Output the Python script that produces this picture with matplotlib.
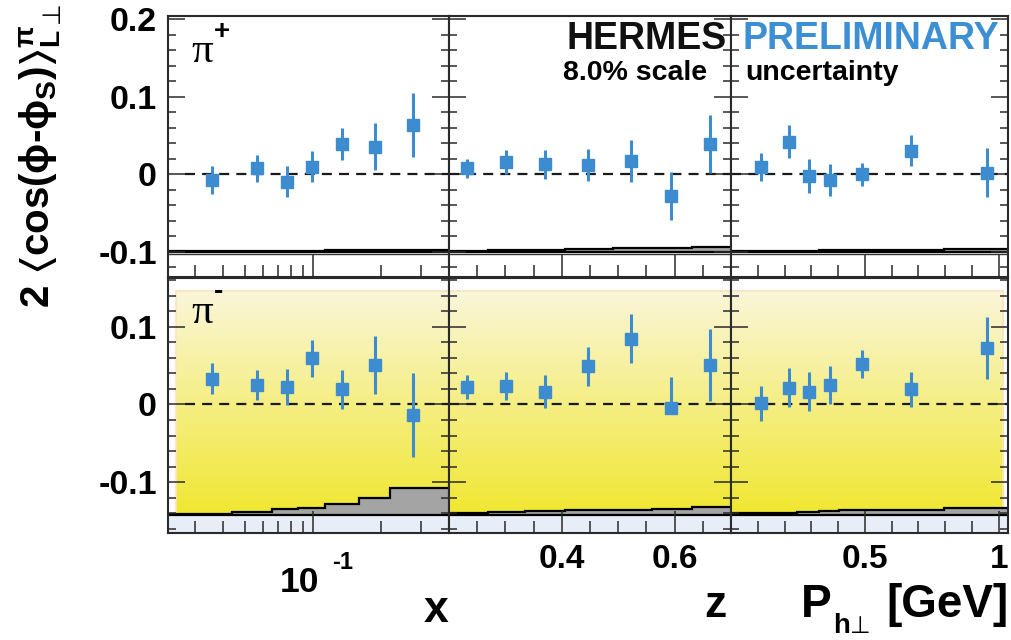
import numpy as np
import matplotlib
matplotlib.use("Agg")
import matplotlib.pyplot as plt
from matplotlib.ticker import MultipleLocator, FixedLocator, NullFormatter, FuncFormatter, LogLocator
from matplotlib.patches import Rectangle

plt.rcParams['font.family'] = ['Liberation Sans', 'DejaVu Sans']
plt.rcParams['font.weight'] = 'bold'
plt.rcParams['axes.unicode_minus'] = False
plt.rcParams['mathtext.fontset'] = 'custom'
plt.rcParams['mathtext.rm'] = 'Liberation Sans:bold'
plt.rcParams['mathtext.it'] = 'Liberation Sans:bold'
plt.rcParams['mathtext.bf'] = 'Liberation Sans:bold'
plt.rcParams['mathtext.fallback'] = 'stix'

# ---------------- data ----------------
x_x = [0.0357, 0.0565, 0.0767, 0.099, 0.134, 0.188, 0.277]
x_z = [0.232, 0.301, 0.371, 0.446, 0.523, 0.593, 0.662]
x_pt = [0.112, 0.215, 0.292, 0.371, 0.489, 0.672, 0.955]

pip_x = [-0.0077, 0.0073, -0.0099, 0.0094, 0.0387, 0.0353, 0.0632]
pip_x_err = [0.018, 0.017, 0.020, 0.020, 0.021, 0.030, 0.041]
pip_z = [0.0073, 0.0151, 0.0129, 0.0116, 0.0168, -0.0284, 0.0387]
pip_z_err = [0.0125, 0.0153, 0.0187, 0.021, 0.027, 0.031, 0.037]
pip_pt = [0.0086, 0.0417, -0.0022, -0.0077, -0.0004, 0.0297, 0.0017]
pip_pt_err = [0.018, 0.021, 0.022, 0.021, 0.015, 0.020, 0.032]

pim_x = [0.0331, 0.0249, 0.0224, 0.0594, 0.0194, 0.0508, -0.0138]
pim_x_err = [0.020, 0.019, 0.023, 0.024, 0.025, 0.037, 0.054]
pim_z = [0.0224, 0.0237, 0.0163, 0.049, 0.0847, -0.0043, 0.0508]
pim_z_err_lo = [0.015, 0.018, 0.021, 0.025, 0.032, 0.004, 0.046]
pim_z_err_hi = [0.015, 0.018, 0.021, 0.025, 0.032, 0.039, 0.046]
pim_pt = [0.0013, 0.0215, 0.0163, 0.0249, 0.0525, 0.0194, 0.0731]
pim_pt_err = [0.023, 0.025, 0.025, 0.024, 0.018, 0.023, 0.040]

# systematic bands (bin edges and heights)
edges_x = [0.023, 0.044, 0.066, 0.086, 0.113, 0.16, 0.22, 0.4]
edges_z = [0.2, 0.27, 0.335, 0.405, 0.49, 0.56, 0.63, 0.7]
edges_pt = [0.0, 0.166, 0.247, 0.33, 0.405, 0.576, 0.797, 1.035]
sys_pip_x = [0.0005, 0.0008, 0.001, 0.0012, 0.0015, 0.002, 0.0025]
sys_pip_z = [0.001, 0.0015, 0.002, 0.003, 0.004, 0.005, 0.006]
sys_pip_pt = [0.0008, 0.001, 0.0012, 0.0015, 0.002, 0.0025, 0.003]
sys_pim_x = [0.001, 0.0035, 0.0073, 0.0095, 0.0142, 0.022, 0.0344]
sys_pim_z = [0.003, 0.004, 0.005, 0.006, 0.007, 0.008, 0.010]
sys_pim_pt = [0.002, 0.003, 0.004, 0.005, 0.006, 0.007, 0.009]

sys_base_top = -0.1
sys_base_bot = -0.142

ylim_top = (-0.1329, 0.2039)
ylim_bot = (-0.1652, 0.1626)
xlims = [(0.0228, 0.40), (0.2, 0.7), (0.0, 1.035)]

BLUE = '#3d8cd0'

W, H = 1011, 640
fig = plt.figure(figsize=(W / 100, H / 100), dpi=100)

cols = [(168, 449), (449, 731), (731, 1008)]
rows = [(16, 277), (278, 533)]

def add_ax(r, c):
    l, rr = cols[c]
    t, b = rows[r]
    return fig.add_axes([l / W, 1 - b / H, (rr - l) / W, (b - t) / H])

top_data = [(x_x, pip_x, pip_x_err, pip_x_err), (x_z, pip_z, pip_z_err, pip_z_err),
            (x_pt, pip_pt, pip_pt_err, pip_pt_err)]
bot_data = [(x_x, pim_x, pim_x_err, pim_x_err), (x_z, pim_z, pim_z_err_lo, pim_z_err_hi),
            (x_pt, pim_pt, pim_pt_err, pim_pt_err)]
edges_all = [edges_x, edges_z, edges_pt]
sys_top = [sys_pip_x, sys_pip_z, sys_pip_pt]
sys_bot = [sys_pim_x, sys_pim_z, sys_pim_pt]

yel_top = np.array([250, 246, 218]) / 255.0
yel_bot = np.array([240, 231, 48]) / 255.0
grad = np.linspace(0, 1, 256)[:, None, None]
grad_img = yel_top[None, None, :] * (1 - grad) + yel_bot[None, None, :] * grad

frame_col = '#2a2a2a'

axes = {}
for r in range(2):
    for c in range(3):
        ax = add_ax(r, c)
        axes[(r, c)] = ax
        ylim = ylim_top if r == 0 else ylim_bot
        if c == 0:
            ax.set_xscale('log')
        # background for pi- row
        if r == 1:
            y0f = (sys_base_bot - ylim[0]) / (ylim[1] - ylim[0])
            y1f = (0.146 - ylim[0]) / (ylim[1] - ylim[0])
            x0f = 0.028 if c == 0 else 0.0
            x1f = 0.982 if c == 2 else 1.0
            ax.add_patch(Rectangle((0, 0), 1, y0f, transform=ax.transAxes,
                                   facecolor='#e7eef8', edgecolor='none', zorder=0))
            ax.imshow(grad_img, extent=(x0f, x1f, y0f, y1f), transform=ax.transAxes,
                      aspect='auto', zorder=0.1, interpolation='bilinear')
            ax.add_patch(Rectangle((x0f, y0f), x1f - x0f, y1f - y0f, transform=ax.transAxes,
                                   facecolor='none', edgecolor='#fbe3c0', lw=1.2, zorder=0.2))
        # systematic band
        base = sys_base_top if r == 0 else sys_base_bot
        hs = sys_top[c] if r == 0 else sys_bot[c]
        vals = [base + h for h in hs]
        ax.stairs(vals, edges_all[c], baseline=base, fill=True, color='#a4a4a4', zorder=1)
        ax.stairs(vals, edges_all[c], baseline=None, color='black', lw=1.6, zorder=1.1)
        ax.axhline(base, color='black', lw=1.6, zorder=1.2)
        if r == 0:
            ax.axhline(base - 0.0035, color='#333333', lw=1.0, zorder=1.2)
        # zero line
        ax.axhline(0, xmin=(0.06 if c == 0 else 0.0), color='#1a1a1a', lw=1.6,
                   dashes=(4.5, 3.2), zorder=2)
        # data
        xs, ys, elo, ehi = (top_data if r == 0 else bot_data)[c]
        ax.errorbar(xs, ys, yerr=[elo, ehi], fmt='s', color=BLUE, ms=8.5,
                    mec=BLUE, elinewidth=2.2, capsize=0, zorder=3)
        ax.set_xlim(*xlims[c])
        ax.set_ylim(*ylim)

        # y ticks
        ax.yaxis.set_major_locator(MultipleLocator(0.1))
        ax.yaxis.set_minor_locator(MultipleLocator(0.02))
        ax.tick_params(axis='y', which='both', direction='in', left=True, right=True,
                       width=1.1, color=frame_col)
        ax.tick_params(axis='y', which='major', length=12.5, labelsize=24.5, pad=8)
        ax.tick_params(axis='y', which='minor', length=6)
        if c == 0:
            ax.yaxis.set_major_formatter(FuncFormatter(
                lambda v, p: '0' if abs(v) < 1e-9 else ('%.1f' % v)))
        else:
            ax.yaxis.set_major_formatter(NullFormatter())
        # x ticks
        ax.tick_params(axis='x', which='both', direction='in', bottom=True, top=False,
                       width=1.1, color=frame_col)
        ax.tick_params(axis='x', which='major', length=16, labelsize=24, pad=8)
        ax.tick_params(axis='x', which='minor', length=8.5)
        if c == 0:
            ax.xaxis.set_major_locator(LogLocator(base=10))
            ax.xaxis.set_minor_locator(LogLocator(base=10, subs=np.arange(2, 10)))
            ax.xaxis.set_major_formatter(NullFormatter())
            ax.xaxis.set_minor_formatter(NullFormatter())
        elif c == 1:
            ax.xaxis.set_major_locator(FixedLocator([0.2, 0.4, 0.6]))
            ax.xaxis.set_minor_locator(MultipleLocator(0.05))
            ax.xaxis.set_major_formatter(FuncFormatter(
                lambda v, p, r=r: '' if v < 0.3 or r == 0 else '%.1f' % v))
        else:
            ax.xaxis.set_major_locator(FixedLocator([0.5, 1.0]))
            ax.xaxis.set_minor_locator(MultipleLocator(0.1))
            ax.xaxis.set_major_formatter(FuncFormatter(
                lambda v, p, r=r: '' if r == 0 else ('1' if v > 0.9 else '0.5')))
        ax.xaxis.set_minor_formatter(NullFormatter())
        for s in ax.spines.values():
            s.set_color(frame_col)
            s.set_linewidth(1.5)
            s.set_zorder(5)

# 10^-1 label on log axis
axl = axes[(1, 0)]
axl.annotate('10', xy=(0.1, 0), xycoords=('data', 'axes fraction'),
             xytext=(-9.5, -36), textcoords='offset points', ha='center', va='center',
             fontsize=25.5, fontweight='bold', annotation_clip=False)
axl.annotate('-1', xy=(0.1, 0), xycoords=('data', 'axes fraction'),
             xytext=(21.5, -21.5), textcoords='offset points', ha='center', va='center',
             fontsize=17, fontweight='bold', annotation_clip=False)

# pi labels
a0 = axes[(0, 0)]
a0.text(0.121, 0.862, 'π', transform=a0.transAxes, family='Liberation Serif',
        fontweight='normal', fontsize=31, ha='center', va='center')
a0.text(0.192, 0.94, '+', transform=a0.transAxes, fontsize=20, fontweight='bold',
        ha='center', va='center')
a1 = axes[(1, 0)]
a1.text(0.121, 0.862, 'π', transform=a1.transAxes, family='Liberation Serif',
        fontweight='normal', fontsize=31, ha='center', va='center')
a1.text(0.18, 0.945, '-', transform=a1.transAxes, fontsize=20, fontweight='bold',
        ha='center', va='center')

# HERMES preliminary text
a = axes[(0, 1)]
a.text(0.986, 0.912, 'HERMES', transform=a.transAxes, fontsize=27, fontweight='bold',
       ha='right', va='center', color='#111111')
a.text(0.404, 0.782, '8.0% scale', transform=a.transAxes, fontsize=20.5,
       fontweight='bold', ha='left', va='center', color='black')
a = axes[(0, 2)]
a.text(0.043, 0.912, 'PRELIMINARY', transform=a.transAxes, fontsize=27,
       fontweight='bold', ha='left', va='center', color='#3d8fd3')
a.text(0.05, 0.782, 'uncertainty', transform=a.transAxes, fontsize=20.5,
       fontweight='bold', ha='left', va='center', color='black')

# axis titles
fig.text(448 / W, 1 - 622 / H, 'x', fontsize=32, fontweight='bold', ha='right', va='baseline')
fig.text(727 / W, 1 - 617 / H, 'z', fontsize=32, fontweight='bold', ha='right', va='baseline')
fig.text(801 / W, 1 - 617 / H, 'P', fontsize=33, fontweight='bold', ha='left', va='baseline')
fig.text(833 / W, 1 - 633 / H, 'h', fontsize=20, fontweight='bold', ha='left', va='baseline')
fig.text(850 / W, 1 - 633 / H, '\u22a5', fontsize=17, family='DejaVu Sans',
         fontweight='normal', ha='left', va='baseline')
fig.text(1009 / W, 1 - 617 / H, '[GeV]', fontsize=33, fontweight='bold',
         ha='right', va='baseline')

ylab = fig.text(40 / W, 1 - 166 / H,
                r'$2\ \langle\mathrm{cos}(\phi\text{-}\phi_{S})\rangle^{\pi}_{L}$',
                fontsize=29, rotation=90, ha='center', va='center')
renderer = fig.canvas.get_renderer()
bb = ylab.get_window_extent(renderer=renderer)
fig.text((bb.x1 + 1) / W, (bb.y1 + 1) / H, '\u22a5', fontsize=18, family='DejaVu Sans',
         fontweight='normal', rotation=90, ha='right', va='bottom')

fig.savefig('out.png', dpi=100, facecolor='white')
